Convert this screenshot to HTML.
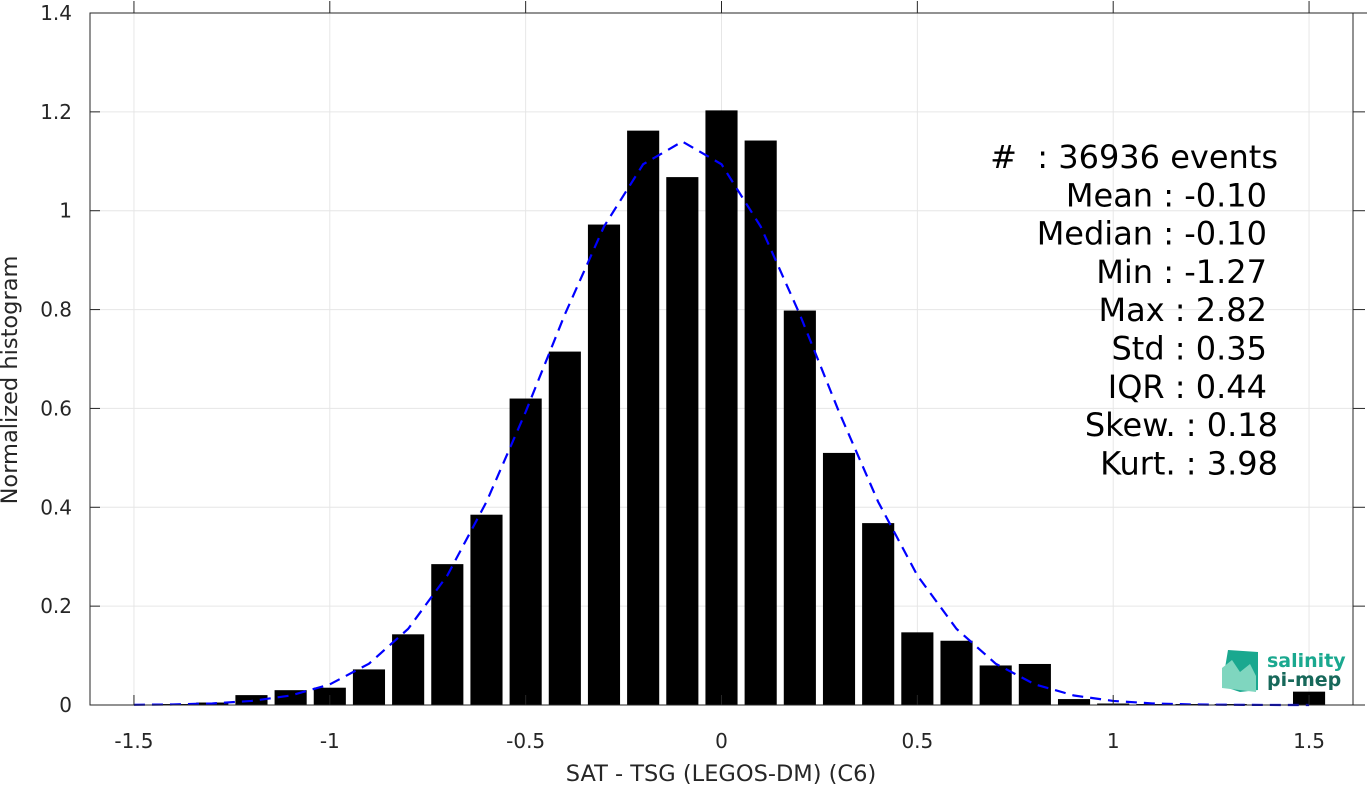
<!DOCTYPE html>
<html><head><meta charset="utf-8"><style>
body{margin:0;background:#fff;}
svg{display:block;font-family:"DejaVu Sans","Liberation Sans",sans-serif;}
</style></head><body>
<svg id="chart" width="1367" height="785" viewBox="0 0 1367 785"></svg>
<script>
const binCenters=[-1.5,-1.4,-1.3,-1.2,-1.1,-1.0,-0.9,-0.8,-0.7,-0.6,-0.5,-0.4,-0.3,-0.2,-0.1,0,0.1,0.2,0.3,0.4,0.5,0.6,0.7,0.8,0.9,1.0,1.1,1.2,1.3,1.4,1.5];
const binValues=[0.0005,0.002,0.005,0.02,0.03,0.035,0.072,0.143,0.285,0.385,0.62,0.715,0.972,1.162,1.068,1.203,1.142,0.798,0.51,0.368,0.147,0.13,0.08,0.083,0.012,0.003,0.002,0.002,0.002,0.001,0.027];
const fitValues=[0.0004,0.0011,0.0032,0.0082,0.0192,0.0417,0.0836,0.154,0.262,0.411,0.593,0.790,0.968,1.094,1.14,1.094,0.968,0.790,0.593,0.411,0.262,0.154,0.0836,0.0417,0.0192,0.0082,0.0032,0.0011,0.0004,0.0001,0.0];
const xTicks=[-1.5,-1,-0.5,0,0.5,1,1.5];
const xTickLabels=["-1.5","-1","-0.5","0","0.5","1","1.5"];
const yTicks=[0,0.2,0.4,0.6,0.8,1,1.2,1.4];
const yTickLabels=["0","0.2","0.4","0.6","0.8","1","1.2","1.4"];
const statsLines=["#  : 36936 events","Mean : -0.10","Median : -0.10","Min : -1.27","Max : 2.82","Std : 0.35","IQR : 0.44","Skew. : 0.18","Kurt. : 3.98"];

const svg=document.getElementById('chart');
const NS='http://www.w3.org/2000/svg';
const L=90,R=1353,T=13,B=705;
const X=v=>721.5+v*391.7;
const Y=v=>B-(v/1.4)*(B-T);
function mk(tag,attrs,parent){const e=document.createElementNS(NS,tag);for(const k in attrs)e.setAttribute(k,attrs[k]);(parent||svg).appendChild(e);return e;}

const grid=mk('g',{});


xTicks.forEach(t=>{mk('line',{x1:X(t),x2:X(t),y1:T,y2:B,stroke:'#e6e6e6','stroke-width':1},grid);});
yTicks.forEach(t=>{mk('line',{x1:L,x2:R,y1:Y(t),y2:Y(t),stroke:'#e6e6e6','stroke-width':1},grid);});

const bars=mk('g',{});


binCenters.forEach((c,i)=>{
 const w=0.082*391.7;
 const r=mk('rect',{x:X(c)-w/2,y:Y(binValues[i]),width:w,height:B-Y(binValues[i]),fill:'#000'},bars);
 
 
});

const fit=mk('polyline',{points:binCenters.map((c,i)=>X(c)+','+Y(fitValues[i])).join(' '),fill:'none',stroke:'#0000ff','stroke-width':2.2,'stroke-dasharray':'11,7'});



const ax=mk('g',{stroke:'#262626','stroke-width':1,fill:'none'});


mk('rect',{x:L,y:T,width:R-L,height:B-T},ax);
mk('line',{x1:R,x2:1367,y1:T,y2:T},ax);
xTicks.forEach(t=>{mk('line',{x1:X(t),x2:X(t),y1:B,y2:B-10},ax);mk('line',{x1:X(t),x2:X(t),y1:T,y2:T-12},ax);});
yTicks.forEach(t=>{mk('line',{x1:L,x2:L+10,y1:Y(t),y2:Y(t)},ax);mk('line',{x1:R,x2:R+12,y1:Y(t),y2:Y(t)},ax);});

xTicks.forEach((t,i)=>{const tx=mk('text',{x:X(t),y:748,'text-anchor':'middle','font-size':20,fill:'#262626'});tx.textContent=xTickLabels[i];
 });
yTicks.forEach((t,i)=>{const tx=mk('text',{x:72,y:Y(t)+7,'text-anchor':'end','font-size':20,fill:'#262626'});tx.textContent=yTickLabels[i];
 });

const xt=mk('text',{x:721,y:781,'text-anchor':'middle','font-size':22.5,fill:'#262626'});xt.textContent='SAT - TSG (LEGOS-DM) (C6)';

const yt=mk('text',{x:17,y:380,'text-anchor':'middle','font-size':22.5,fill:'#262626',transform:'rotate(-90 17 380)'});yt.textContent='Normalized histogram';


const st=mk('g',{});


statsLines.forEach((s,i)=>{const rx=(i===0||i===7||i===8)?1278:1267;
 const tx=mk('text',{x:rx,y:168+i*38.3,'text-anchor':'end','font-size':32,fill:'#000',style:'white-space:pre'},st);tx.textContent=s;
 });

const logo=mk('g',{});


mk('path',{d:'M1228,650 L1258,652 L1258,690 L1240,692 L1222,686 Z',fill:'#1aa88f'},logo);
mk('path',{d:'M1222,668 L1232,660 L1240,672 L1250,664 L1256,676 L1256,692 L1222,688 Z',fill:'#7fd6bf'},logo);
const l1=mk('text',{x:1267,y:667,'font-size':19,'font-weight':'bold',fill:'#1aa88f'},logo);l1.textContent='salinity';
const l2=mk('text',{x:1267,y:686,'font-size':19,'font-weight':'bold',fill:'#17685a'},logo);l2.textContent='pi-mep';
</script>
</body></html>
